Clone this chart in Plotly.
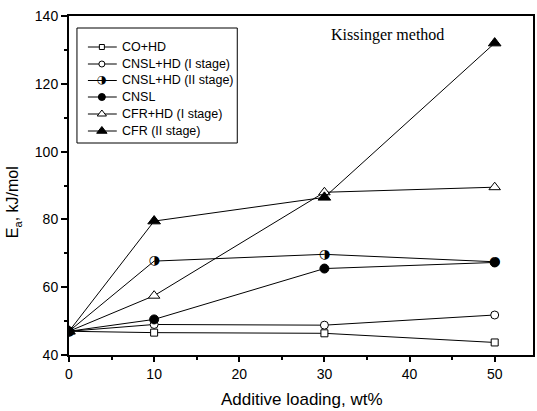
import plotly.graph_objects as go

x_load = [0, 10, 30, 50]
co_hd = [47, 46.6, 46.4, 43.7]
cnsl_hd_1 = [47, 49.0, 48.8, 51.8]
cnsl_hd_2 = [47, 67.7, 69.7, 67.5]
cnsl = [47, 50.5, 65.5, 67.3]
cfr_hd_1 = [47, 57.5, 88.0, 89.5]
cfr_2 = [47, 79.5, 86.5, 132.0]

names = ["CO+HD", "CNSL+HD (I stage)", "CNSL+HD (II stage)", "CNSL", "CFR+HD (I stage)", "CFR (II stage)"]
series = [co_hd, cnsl_hd_1, cnsl_hd_2, cnsl, cfr_hd_1, cfr_2]
# (symbol, size, fill)
styles = [("square", 7, "white"), ("circle", 8, "white"), ("half", 9, None),
          ("circle", 9, "black"), ("triangle-up", 10, "white"), ("triangle-up", 11, "black")]

W, H = 537, 411
L, R, T, B = 69, 2, 16, 56
pw, ph = W - L - R, H - T - B

def px(xp):
    return (xp - L) / pw

def py(yp):
    return (H - B - yp) / ph

fig = go.Figure()
for name, ys, (sym, sz, fill) in zip(names, series, styles):
    if sym == "half":
        fig.add_trace(go.Scatter(x=x_load, y=ys, mode="lines+text", text=["\u25D1"] * len(ys),
                                 textposition="middle center",
                                 textfont=dict(family="DejaVu Sans", size=13, color="black"),
                                 line=dict(color="black", width=1), showlegend=False))
    else:
        fig.add_trace(go.Scatter(x=x_load, y=ys, mode="lines+markers",
                                 line=dict(color="black", width=1),
                                 marker=dict(symbol=sym, size=sz, color=fill,
                                             line=dict(color="black", width=1)),
                                 showlegend=False))

# manual legend
box = dict(x0=px(77), x1=px(238), y0=py(28), y1=py(143))
fig.add_shape(type="rect", xref="paper", yref="paper", line=dict(color="black", width=1),
              fillcolor="white", layer="below", **box)
ycent = [47, 64, 80.5, 97, 114, 131]
for name, (sym, sz, fill), yc in zip(names, styles, ycent):
    fig.add_shape(type="line", xref="paper", yref="paper", x0=px(88), x1=px(117),
                  y0=py(yc), y1=py(yc), line=dict(color="black", width=1), layer="below")
    if sym == "half":
        fig.add_trace(go.Scatter(x=[px(102)], y=[py(yc)], xaxis="x2", yaxis="y2", mode="text",
                                 text=["\u25D1"], textposition="middle center",
                                 textfont=dict(family="DejaVu Sans", size=11, color="black"),
                                 showlegend=False))
    else:
        fig.add_trace(go.Scatter(x=[px(102)], y=[py(yc)], xaxis="x2", yaxis="y2", mode="markers",
                                 marker=dict(symbol=sym, size=sz - 2, color=fill,
                                             line=dict(color="black", width=1)),
                                 showlegend=False))
    fig.add_annotation(x=px(120), y=py(yc), xref="paper", yref="paper", text=name,
                       showarrow=False, xanchor="left", yanchor="middle",
                       font=dict(family="Arial, Liberation Sans", size=12.5, color="black"))

fig.add_annotation(x=px(389), y=py(35), xref="paper", yref="paper", text="Kissinger method",
                   showarrow=False, xanchor="center", yanchor="middle",
                   font=dict(family="Times New Roman, Liberation Serif", size=16, color="black"))
fig.add_annotation(x=px(303), y=py(399), xref="paper", yref="paper", text="Additive loading, wt%",
                   showarrow=False, xanchor="center", yanchor="middle",
                   font=dict(family="Arial, Liberation Sans", size=17, color="black"))
fig.add_annotation(x=px(13), y=py(202), xref="paper", yref="paper", text="E<sub>a</sub>, kJ/mol",
                   textangle=-90, showarrow=False, xanchor="center", yanchor="middle",
                   font=dict(family="Arial, Liberation Sans", size=16, color="black"))

axis_common = dict(showgrid=False, zeroline=False, showline=True, linecolor="black", linewidth=2,
                   mirror=True, ticks="outside", tickcolor="black", tickwidth=1.5,
                   tickfont=dict(family="Arial, Liberation Sans", size=14, color="black"))
fig.update_layout(
    width=W, height=H, margin=dict(l=L, r=R, t=T, b=B),
    plot_bgcolor="white", paper_bgcolor="white", showlegend=False,
    xaxis=dict(range=[0, 54.5], tickmode="linear", tick0=0, dtick=10, ticklen=5,
               minor=dict(ticks="outside", dtick=5, ticklen=3, tickcolor="black"), **axis_common),
    yaxis=dict(range=[40, 140], tickmode="linear", tick0=40, dtick=20, ticklen=6,
               minor=dict(ticks="outside", dtick=10, ticklen=3, tickcolor="black"), **axis_common),
    xaxis2=dict(range=[0, 1], overlaying="x", visible=False, domain=[0, 1]),
    yaxis2=dict(range=[0, 1], overlaying="y", visible=False, domain=[0, 1]),
)
fig.write_html("out.html")
